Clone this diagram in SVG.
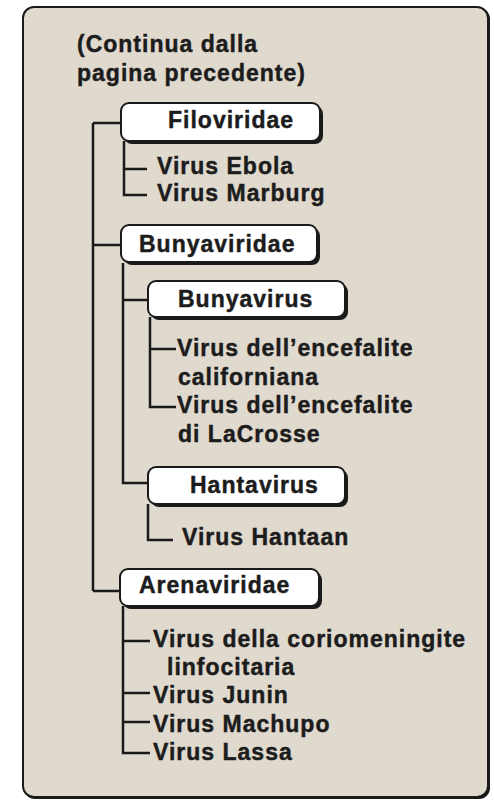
<svg xmlns="http://www.w3.org/2000/svg" width="494" height="801" viewBox="0 0 494 801">
<style>
.t{font-family:"Liberation Sans",Arial,sans-serif;font-weight:bold;font-size:23px;letter-spacing:1px;fill:#1c1c1c;stroke:#1c1c1c;stroke-width:0.45}
.sh{fill:#1a1a1a}
.bx{fill:#ffffff;stroke:#1a1a1a;stroke-width:2}
.c{fill:none;stroke:#1a1a1a;stroke-width:2.5}
</style>
<rect width="494" height="801" fill="#ffffff"/>
<g id="frame">
<rect x="24" y="8" width="466" height="791" rx="11" fill="#1a1a1a"/>
<rect x="23" y="7" width="465" height="790" rx="11" fill="#e0d9ce" stroke="#1a1a1a" stroke-width="2"/>
</g>
<g id="title">
<text class="t" x="77" y="52">(Continua dalla</text>
<text class="t" x="77" y="81">pagina precedente)</text>
</g>
<g id="connectors">
<path class="c" d="M93,123 V591 M93,123 H121 M93,245 H121 M93,591 H120"/>
<path class="c" d="M124,141 V195 H147 M124,169 H147"/>
<path class="c" d="M123,263 V483 H148 M123,300 H148"/>
<path class="c" d="M150,317 V407 H176 M150,349 H176"/>
<path class="c" d="M148,504 V540 H173"/>
<path class="c" d="M123,606 V753 H150 M123,641 H150 M123,693 H150 M123,722 H150"/>
</g>
<g id="filoviridae">
<rect class="sh" x="124" y="106" width="199" height="38" rx="8"/>
<rect class="bx" x="121" y="103" width="199" height="38" rx="8"/>
<text class="t" x="168" y="128">Filoviridae</text>
</g>
<g id="ebola"><text class="t" x="157" y="174">Virus Ebola</text></g>
<g id="marburg"><text class="t" x="157" y="201">Virus Marburg</text></g>
<g id="bunyaviridae">
<rect class="sh" x="124" y="228" width="196" height="37" rx="8"/>
<rect class="bx" x="121" y="225" width="196" height="37" rx="8"/>
<text class="t" x="139" y="252">Bunyaviridae</text>
</g>
<g id="bunyavirus">
<rect class="sh" x="151" y="284" width="197" height="36" rx="8"/>
<rect class="bx" x="148" y="281" width="197" height="36" rx="8"/>
<text class="t" x="178" y="307">Bunyavirus</text>
</g>
<g id="encefalite-californiana">
<text class="t" x="177" y="356">Virus dell’encefalite</text>
<text class="t" x="178" y="385">californiana</text>
</g>
<g id="encefalite-lacrosse">
<text class="t" x="177" y="413">Virus dell’encefalite</text>
<text class="t" x="178" y="442">di LaCrosse</text>
</g>
<g id="hantavirus">
<rect class="sh" x="151" y="470" width="197" height="37" rx="8"/>
<rect class="bx" x="148" y="467" width="197" height="37" rx="8"/>
<text class="t" x="190" y="493">Hantavirus</text>
</g>
<g id="hantaan"><text class="t" x="182" y="545">Virus Hantaan</text></g>
<g id="arenaviridae">
<rect class="sh" x="123" y="572" width="199" height="37" rx="8"/>
<rect class="bx" x="120" y="569" width="199" height="37" rx="8"/>
<text class="t" x="139" y="593">Arenaviridae</text>
</g>
<g id="coriomeningite">
<text class="t" x="153" y="647">Virus della coriomeningite</text>
<text class="t" x="167" y="675">linfocitaria</text>
</g>
<g id="junin"><text class="t" x="153" y="703">Virus Junin</text></g>
<g id="machupo"><text class="t" x="153" y="732">Virus Machupo</text></g>
<g id="lassa"><text class="t" x="153" y="760">Virus Lassa</text></g>
</svg>
